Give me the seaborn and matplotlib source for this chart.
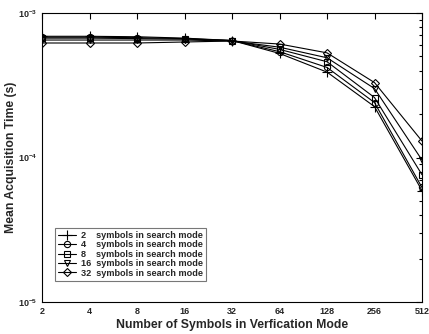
import matplotlib
matplotlib.use("Agg")
import matplotlib.pyplot as plt
import seaborn as sns
import numpy as np
import pandas as pd

verif_symbols = [2, 4, 8, 16, 32, 64, 128, 256, 512]
x_tick_labels = ["2", "4", "8", "16", "32", "64", "128", "256", "512"]
search_modes = ["2", "4", "8", "16", "32"]
t_2 = [6.9e-4, 6.9e-4, 6.85e-4, 6.7e-4, 6.45e-4, 5.25e-4, 3.9e-4, 2.25e-4, 5.9e-5]
t_4 = [6.8e-4, 6.8e-4, 6.75e-4, 6.65e-4, 6.45e-4, 5.4e-4, 4.2e-4, 2.4e-4, 6.2e-5]
t_8 = [6.7e-4, 6.7e-4, 6.65e-4, 6.6e-4, 6.45e-4, 5.6e-4, 4.6e-4, 2.6e-4, 7.6e-5]
t_16 = [6.5e-4, 6.5e-4, 6.5e-4, 6.5e-4, 6.4e-4, 5.8e-4, 4.9e-4, 3.0e-4, 9.6e-5]
t_32 = [6.2e-4, 6.2e-4, 6.2e-4, 6.3e-4, 6.4e-4, 6.1e-4, 5.3e-4, 3.3e-4, 1.3e-4]
series = [t_2, t_4, t_8, t_16, t_32]
markers = ["+", "o", "s", "v", "D"]
msizes = [6.5, 4.5, 4.5, 4.5, 4.2]

sns.set_style("white")
plt.rcParams['font.family'] = ['Liberation Sans', 'DejaVu Sans']
plt.rcParams['mathtext.fontset'] = 'custom'
plt.rcParams['mathtext.rm'] = 'Liberation Sans'
plt.rcParams['mathtext.bf'] = 'Liberation Sans:bold'

fig = plt.figure(figsize=(4.29, 3.34), dpi=100)
ax = fig.add_axes([42/429, 1-302/334, 380/429, 289/334])

for name, vals, mk, ms in zip(search_modes, series, markers, msizes):
    df = pd.DataFrame({"x": verif_symbols, "y": vals})
    label = f"{name}{' ' * (4 if len(name) == 1 else 2)}symbols in search mode"
    sns.lineplot(data=df, x="x", y="y", ax=ax, color="black", marker=mk,
                 markersize=ms, markerfacecolor="none", markeredgecolor="black",
                 markeredgewidth=0.8, linewidth=0.8, label=label)

ax.set_xscale("log", base=2)
ax.set_yscale("log")
ax.set_xlim(2, 512)
ax.set_ylim(1e-5, 1e-3)
ax.set_xticks(verif_symbols)
ax.set_xticklabels(x_tick_labels)
ax.minorticks_on()
ax.xaxis.set_minor_locator(matplotlib.ticker.NullLocator())
ax.tick_params(axis="both", which="both", direction="in", top=True, right=True,
               labelsize=6.5, width=0.8, color="black")
ax.tick_params(axis="both", which="major", length=4)
ax.tick_params(axis="both", which="minor", length=2)
for lab in ax.get_xticklabels() + ax.get_yticklabels():
    lab.set_fontweight("bold")
for sp in ax.spines.values():
    sp.set_color("black")
    sp.set_linewidth(0.8)

ax.set_xlabel("Number of Symbols in Verfication Mode", fontsize=8.8, fontweight="bold")
ax.set_ylabel("Mean Acquisition Time (s)", fontsize=8.8, fontweight="bold")
ax.xaxis.set_label_coords(0.5, -0.06)
ax.yaxis.set_label_coords(-0.065, 0.5)

leg = ax.legend(loc="lower left", bbox_to_anchor=(0.034, 0.073),
                frameon=True, fancybox=False, edgecolor="#777777", framealpha=1,
                handlelength=2.0, handletextpad=0.5, labelspacing=0.05,
                borderpad=0.35, borderaxespad=0, prop={"weight": "bold", "size": 6.6})
leg.get_frame().set_linewidth(0.8)

fig.savefig("out.png", dpi=100)
